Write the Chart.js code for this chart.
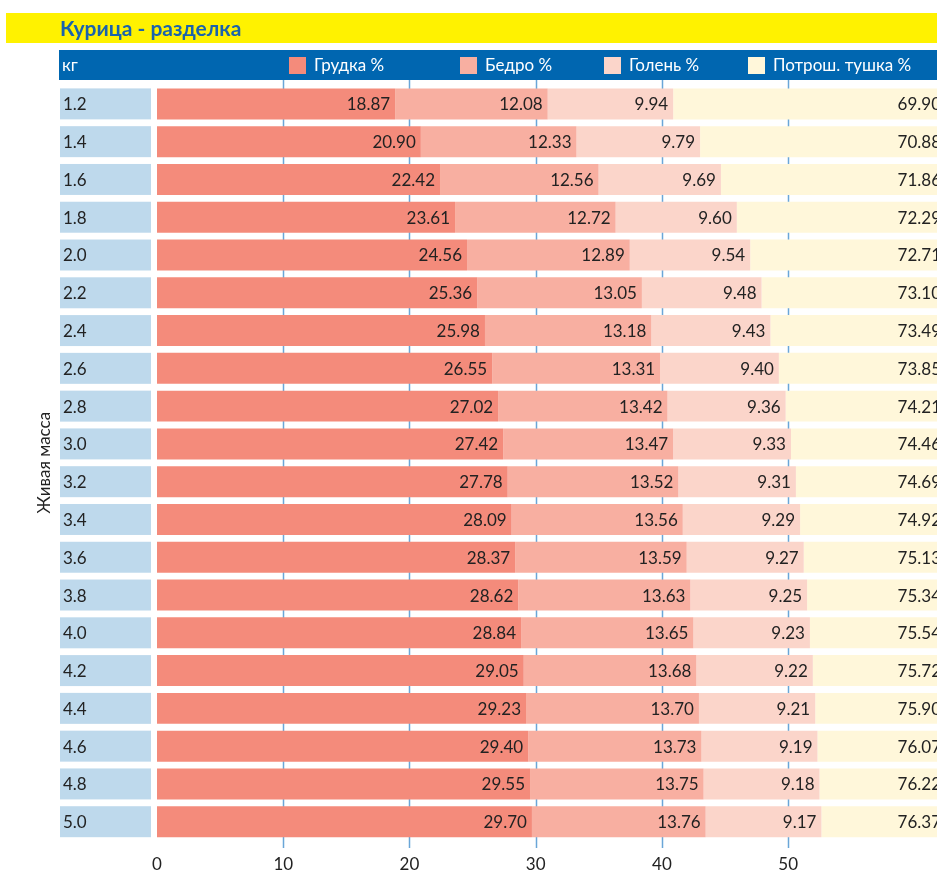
<!DOCTYPE html>
<html lang="ru">
<head>
<meta charset="utf-8">
<title>Курица - разделка</title>
<script src="https://cdn.jsdelivr.net/npm/chart.js@4.4.1/dist/chart.umd.min.js"></script>
<style>
  html, body { margin: 0; padding: 0; background: #fff; overflow: hidden; }
  #wrap { position: relative; width: 960px; height: 889px; }
</style>
</head>
<body>
<div id="wrap"><canvas id="chart" width="960" height="889"></canvas></div>
<script>
const chartTitle = 'Курица - разделка';
const unitLabel = 'кг';
const axisTitle = 'Живая масса';

const weights = ['1.2', '1.4', '1.6', '1.8', '2.0', '2.2', '2.4', '2.6', '2.8', '3.0',
  '3.2', '3.4', '3.6', '3.8', '4.0', '4.2', '4.4', '4.6', '4.8', '5.0'];

const seriesNames = ['Грудка %', 'Бедро %', 'Голень %', 'Потрош. тушка %'];

const breast = [18.87, 20.90, 22.42, 23.61, 24.56, 25.36, 25.98, 26.55, 27.02, 27.42,
  27.78, 28.09, 28.37, 28.62, 28.84, 29.05, 29.23, 29.40, 29.55, 29.70];
const thigh = [12.08, 12.33, 12.56, 12.72, 12.89, 13.05, 13.18, 13.31, 13.42, 13.47,
  13.52, 13.56, 13.59, 13.63, 13.65, 13.68, 13.70, 13.73, 13.75, 13.76];
const drumstick = [9.94, 9.79, 9.69, 9.60, 9.54, 9.48, 9.43, 9.40, 9.36, 9.33,
  9.31, 9.29, 9.27, 9.25, 9.23, 9.22, 9.21, 9.19, 9.18, 9.17];
const carcass = [69.90, 70.88, 71.86, 72.29, 72.71, 73.10, 73.49, 73.85, 74.21, 74.46,
  74.69, 74.92, 75.13, 75.34, 75.54, 75.72, 75.90, 76.07, 76.22, 76.37];

const xTicks = [0, 10, 20, 30, 40, 50];

const seriesColors = ['#f48b7b', '#f8afa1', '#fbd5ca', '#fff7da'];
const FONT = 'Lato, "Open Sans", sans-serif';

Chart.defaults.font.family = FONT;
Chart.defaults.font.size = 17;
Chart.defaults.color = '#222';

// banner, header row with legend, row label boxes, grid lines
const decor = {
  id: 'decor',
  beforeDraw(chart) {
    const { ctx, chartArea, scales } = chart;
    const y = scales.y;
    ctx.save();

    ctx.fillStyle = '#fff200';
    ctx.fillRect(6, 13, chart.width, 30);
    ctx.fillStyle = '#1a63ad';
    ctx.font = `bold 21px ${FONT}`;
    ctx.textBaseline = 'middle';
    ctx.fillText(chartTitle, 60, 29);

    ctx.fillStyle = '#0066b0';
    ctx.fillRect(59, 50, chart.width, 30);
    ctx.fillStyle = '#fff';
    ctx.font = `17px ${FONT}`;
    ctx.fillText(unitLabel, 62, 66);
    const legendX = [289, 460, 604, 748];
    chart.data.datasets.forEach((ds, i) => {
      ctx.fillStyle = ds.backgroundColor;
      ctx.fillRect(legendX[i], 57, 17, 17);
      ctx.fillStyle = '#fff';
      ctx.fillText(ds.label, legendX[i] + 25, 66);
    });

    const meta = chart.getDatasetMeta(0);
    weights.forEach((w, i) => {
      const cy = y.getPixelForValue(i);
      const h = meta.data[i].height;
      ctx.fillStyle = '#bed9ec';
      ctx.fillRect(60, cy - h / 2, 91, h);
      ctx.fillStyle = '#222';
      ctx.fillText(w, 63, cy + 1);
    });

    ctx.translate(45, (chartArea.top + chartArea.bottom) / 2);
    ctx.rotate(-Math.PI / 2);
    ctx.textAlign = 'center';
    ctx.fillStyle = '#222';
    ctx.fillText(axisTitle, 0, 0);
    ctx.restore();
  },
  beforeDatasetsDraw(chart) {
    const { ctx, scales } = chart;
    ctx.save();
    ctx.strokeStyle = '#6aa6d8';
    ctx.lineWidth = 1.5;
    xTicks.slice(1).forEach((v) => {
      const px = Math.round(scales.x.getPixelForValue(v)) + 0.5;
      ctx.beginPath();
      ctx.moveTo(px, 80);
      ctx.lineTo(px, 848);
      ctx.stroke();
    });
    ctx.restore();
  },
  afterDatasetsDraw(chart) {
    const { ctx, chartArea } = chart;
    ctx.save();
    ctx.font = `17px ${FONT}`;
    ctx.fillStyle = '#222';
    ctx.textAlign = 'right';
    ctx.textBaseline = 'middle';
    chart.data.datasets.forEach((ds, i) => {
      chart.getDatasetMeta(i).data.forEach((el, j) => {
        const x = Math.min(el.x, chartArea.right) - 5;
        ctx.fillText(ds.data[j].toFixed(2), x, el.y + 1);
      });
    });
    ctx.restore();
  },
};

new Chart(document.getElementById('chart'), {
  type: 'bar',
  data: {
    labels: weights,
    datasets: [breast, thigh, drumstick, carcass].map((data, i) => ({
      label: seriesNames[i],
      data,
      backgroundColor: seriesColors[i],
      borderWidth: 0,
      barPercentage: 0.82,
      categoryPercentage: 1,
    })),
  },
  options: {
    indexAxis: 'y',
    responsive: false,
    animation: false,
    layout: { padding: { left: 157, right: 14, top: 85, bottom: 0 } },
    plugins: { legend: { display: false }, tooltip: { enabled: false } },
    scales: {
      x: {
        stacked: true,
        min: 0,
        max: 62.5,
        border: { display: false },
        grid: { display: false, drawTicks: false },
        afterBuildTicks: (axis) => { axis.ticks = xTicks.map((value) => ({ value })); },
        ticks: { padding: 14, color: '#222', font: { size: 17 } },
      },
      y: { stacked: true, display: false },
    },
  },
  plugins: [decor],
});
</script>
</body>
</html>
